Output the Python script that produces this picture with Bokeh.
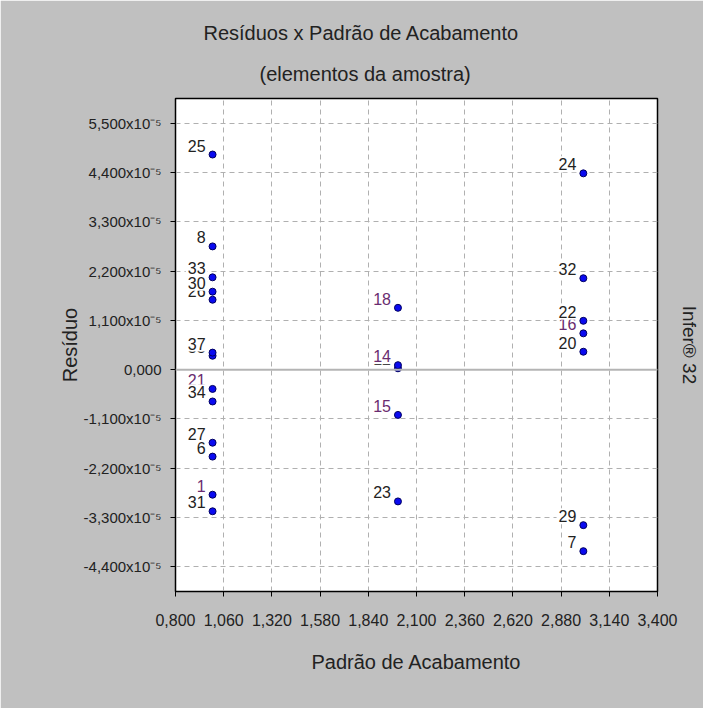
from bokeh.plotting import figure
from bokeh.models import (ColumnDataSource, FixedTicker, CustomJSTickFormatter,
                          Span, Title, Range1d)
from bokeh.core.properties import value
from bokeh.embed import file_html
from bokeh.resources import INLINE

# ---------------- data (residuals in units of 10^-5) ----------------
elementos = [1, 6, 7, 8, 12, 14, 15, 16, 18, 20, 21, 22, 23, 24, 25,
             26, 27, 29, 30, 31, 32, 33, 34, 35, 37]
padrao = [1, 1, 3, 1, 2, 2, 2, 3, 2, 3, 1, 3, 2, 3, 1,
          1, 1, 3, 1, 1, 3, 1, 1, 1, 1]
residuo = [-2.79, -1.94, -4.05, 2.75, 0.03, 0.10, -1.01, 0.81, 1.38, 0.40,
           -0.43, 1.09, -2.94, 4.38, 4.80, 1.56, -1.63, -3.47, 1.74, -3.16,
           2.04, 2.06, -0.71, 0.31, 0.38]

x_ticks = [0.8, 1.06, 1.32, 1.58, 1.84, 2.1, 2.36, 2.62, 2.88, 3.14, 3.4]
y_ticks = [-4.4, -3.3, -2.2, -1.1, 0.0, 1.1, 2.2, 3.3, 4.4, 5.5]

titulo = "Resíduos x Padrão de Acabamento"
subtitulo = "(elementos da amostra)"
x_titulo = "Padrão de Acabamento"
y_titulo = "Resíduo"
marca = "Infer® 32"

# ---------------- layout / style ----------------
FONT = "Liberation Sans"
TXT = "#222222"
GRAY = "#C0C0C0"
X0, X1 = 0.8, 3.4
Y0, Y1 = -4.95, 6.05
FRAME_L, FRAME_T, FRAME_W, FRAME_H = 175, 98, 482, 493
W, H = 703, 708

purple = {1, 14, 15, 16, 18, 21}
cores = ["#6A2C70" if e in purple else TXT for e in elementos]

src = ColumnDataSource(dict(padrao=padrao, residuo=residuo,
                            rotulo=[str(e) for e in elementos], cor=cores))

p = figure(width=W, height=H, output_backend="svg", toolbar_location=None,
           title=None,
           x_range=Range1d(X0, X1), y_range=Range1d(Y0, Y1),
           min_border_left=FRAME_L,
           min_border_right=W - FRAME_L - FRAME_W,
           min_border_top=FRAME_T,
           min_border_bottom=H - FRAME_T - FRAME_H,
           background_fill_color="white", border_fill_color=GRAY)

p.outline_line_color = "black"
p.outline_line_width = 1.5

# axes
for ax in (p.xaxis[0], p.yaxis[0]):
    ax.axis_line_color = "black"
    ax.major_tick_line_color = "black"
    ax.major_tick_out = 5
    ax.major_tick_in = 0
    ax.minor_tick_line_color = None
    ax.major_label_text_font = FONT
    ax.major_label_text_color = TXT
    ax.axis_label_text_font = FONT
    ax.axis_label_text_font_size = "20px"
    ax.axis_label_text_font_style = "normal"
    ax.axis_label_text_color = TXT

p.xaxis.ticker = FixedTicker(ticks=x_ticks)
p.xaxis.formatter = CustomJSTickFormatter(
    code='return tick.toFixed(3).replace(".", ",");')
p.xaxis.major_label_text_font_size = "16px"
p.xaxis.major_label_standoff = 17
p.xaxis.axis_label = x_titulo
p.xaxis.axis_label_standoff = 22

p.yaxis.ticker = FixedTicker(ticks=y_ticks)
p.yaxis.formatter = CustomJSTickFormatter(code="""
if (Math.abs(tick) < 1e-9) { return "0,000"; }
return tick.toFixed(3).replace(".", ",") + "x10\u207B\u2075";
""")
p.yaxis.major_label_text_font_size = "15px"
p.yaxis.major_label_standoff = 9
p.yaxis.axis_label = y_titulo
p.yaxis.axis_label_standoff = 0

# grids
p.xgrid.ticker = FixedTicker(ticks=x_ticks)
p.ygrid.ticker = FixedTicker(ticks=y_ticks)
for g in (p.xgrid[0], p.ygrid[0]):
    g.grid_line_color = "#B0B0B0"
    g.grid_line_dash = "5 4"
    g.grid_line_width = 1

p.add_layout(Span(location=0, dimension="width", line_color="#B4B4B4",
                  line_width=2))

# points
p.scatter(x="padrao", y="residuo", source=src, marker="circle", size=7,
          fill_color="#0A0AF0", line_color="#000060", line_width=1)

# point labels (white boxes, drawn in element order)
p.text(x="padrao", y="residuo", text="rotulo", source=src,
       text_align="right", text_baseline="alphabetic",
       x_offset=-5, y_offset=-9,
       text_font=value(FONT), text_font_size="16px", text_color="cor",
       background_fill_color="white", padding=2)

# titles (subtitle first: it sits nearest the frame)
p.add_layout(Title(text=subtitulo, align="left", offset=84, standoff=27,
                   text_font=FONT, text_font_size="20px",
                   text_font_style="normal", text_color=TXT), "above")
p.add_layout(Title(text=titulo, align="left", offset=28, standoff=8,
                   text_font=FONT, text_font_size="20px",
                   text_font_style="normal", text_color=TXT), "above")
# vertical mark on the right; the blank second line pushes it outward
p.add_layout(Title(text=marca + "\n ", align="center", standoff=0,
                   text_font=FONT, text_font_size="19px",
                   text_font_style="normal", text_color=TXT), "right")

open("out.html", "w").write(file_html(p, INLINE))
